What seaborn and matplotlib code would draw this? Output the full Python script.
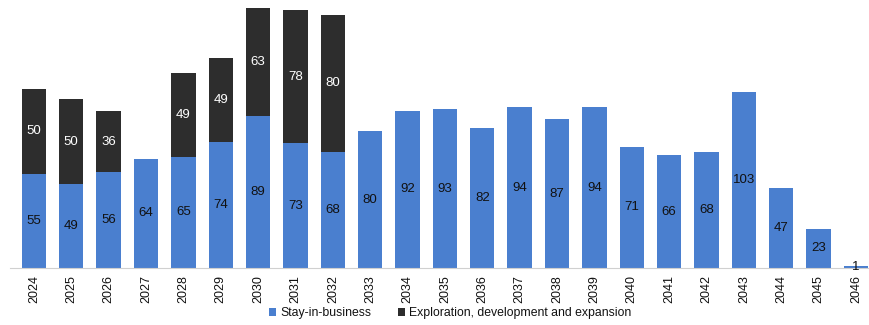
import matplotlib
matplotlib.use("Agg")
import matplotlib.pyplot as plt
import seaborn as sns
import pandas as pd
from matplotlib.patches import Patch

# Capital spending by year and category
years = [str(y) for y in range(2024, 2047)]
stay_in_business = [55, 49, 56, 64, 65, 74, 89, 73, 68, 80, 92, 93, 82, 94, 87, 94,
                    71, 66, 68, 103, 47, 23, 1]
exploration = [50, 50, 36, 0, 49, 49, 63, 78, 80, 0, 0, 0, 0, 0, 0, 0,
               0, 0, 0, 0, 0, 0, 0]

series_names = ["Stay-in-business", "Exploration, development and expansion"]
blue = "#4a7fcf"
dark = "#2d2d2d"

df = pd.DataFrame({"year": years, "sib": stay_in_business, "exp": exploration})
df["total"] = df["sib"] + df["exp"]

sns.set_theme(style="white")
plt.rcParams["font.family"] = ["Liberation Sans", "DejaVu Sans"]

fig = plt.figure(figsize=(8.69, 3.25), dpi=100)
ax = fig.add_axes([0.0115, 0.1754, 0.9885, 0.8246])

# Stacked bars: totals in dark, stay-in-business drawn over them
sns.barplot(data=df, x="year", y="total", color=dark, width=0.65,
            saturation=1, ax=ax, linewidth=0)
sns.barplot(data=df, x="year", y="sib", color=blue, width=0.65,
            saturation=1, ax=ax, linewidth=0)

# Value labels centred in each segment
for i, (s, e) in enumerate(zip(stay_in_business, exploration)):
    if s > 0:
        ax.text(i, s / 2, f"{s}", ha="center", va="center", fontsize=9.5,
                color="#111111")
    if e > 0:
        ax.text(i, s + e / 2, f"{e}", ha="center", va="center", fontsize=9.5,
                color="white")

ax.set_xlim(-0.64, 22.35)
ax.set_ylim(0, 156.8)
ax.set_xlabel("")
ax.set_ylabel("")
ax.set_yticks([])
ax.tick_params(axis="x", rotation=90, labelsize=9, length=0, pad=5,
               colors="#111111")
for side in ["top", "right", "left"]:
    ax.spines[side].set_visible(False)
ax.spines["bottom"].set_color("#d0d0d0")
ax.spines["bottom"].set_linewidth(0.8)

handles = [Patch(facecolor=blue, edgecolor="none"),
           Patch(facecolor=dark, edgecolor="none")]
fig.legend(handles, series_names, loc="center", bbox_to_anchor=(0.518, 0.036),
           ncol=2, frameon=False, fontsize=8.8, handlelength=0.6,
           handleheight=0.6, handletextpad=0.3, columnspacing=2.2,
           labelcolor="#111111")

fig.savefig("out.png", dpi=100)
